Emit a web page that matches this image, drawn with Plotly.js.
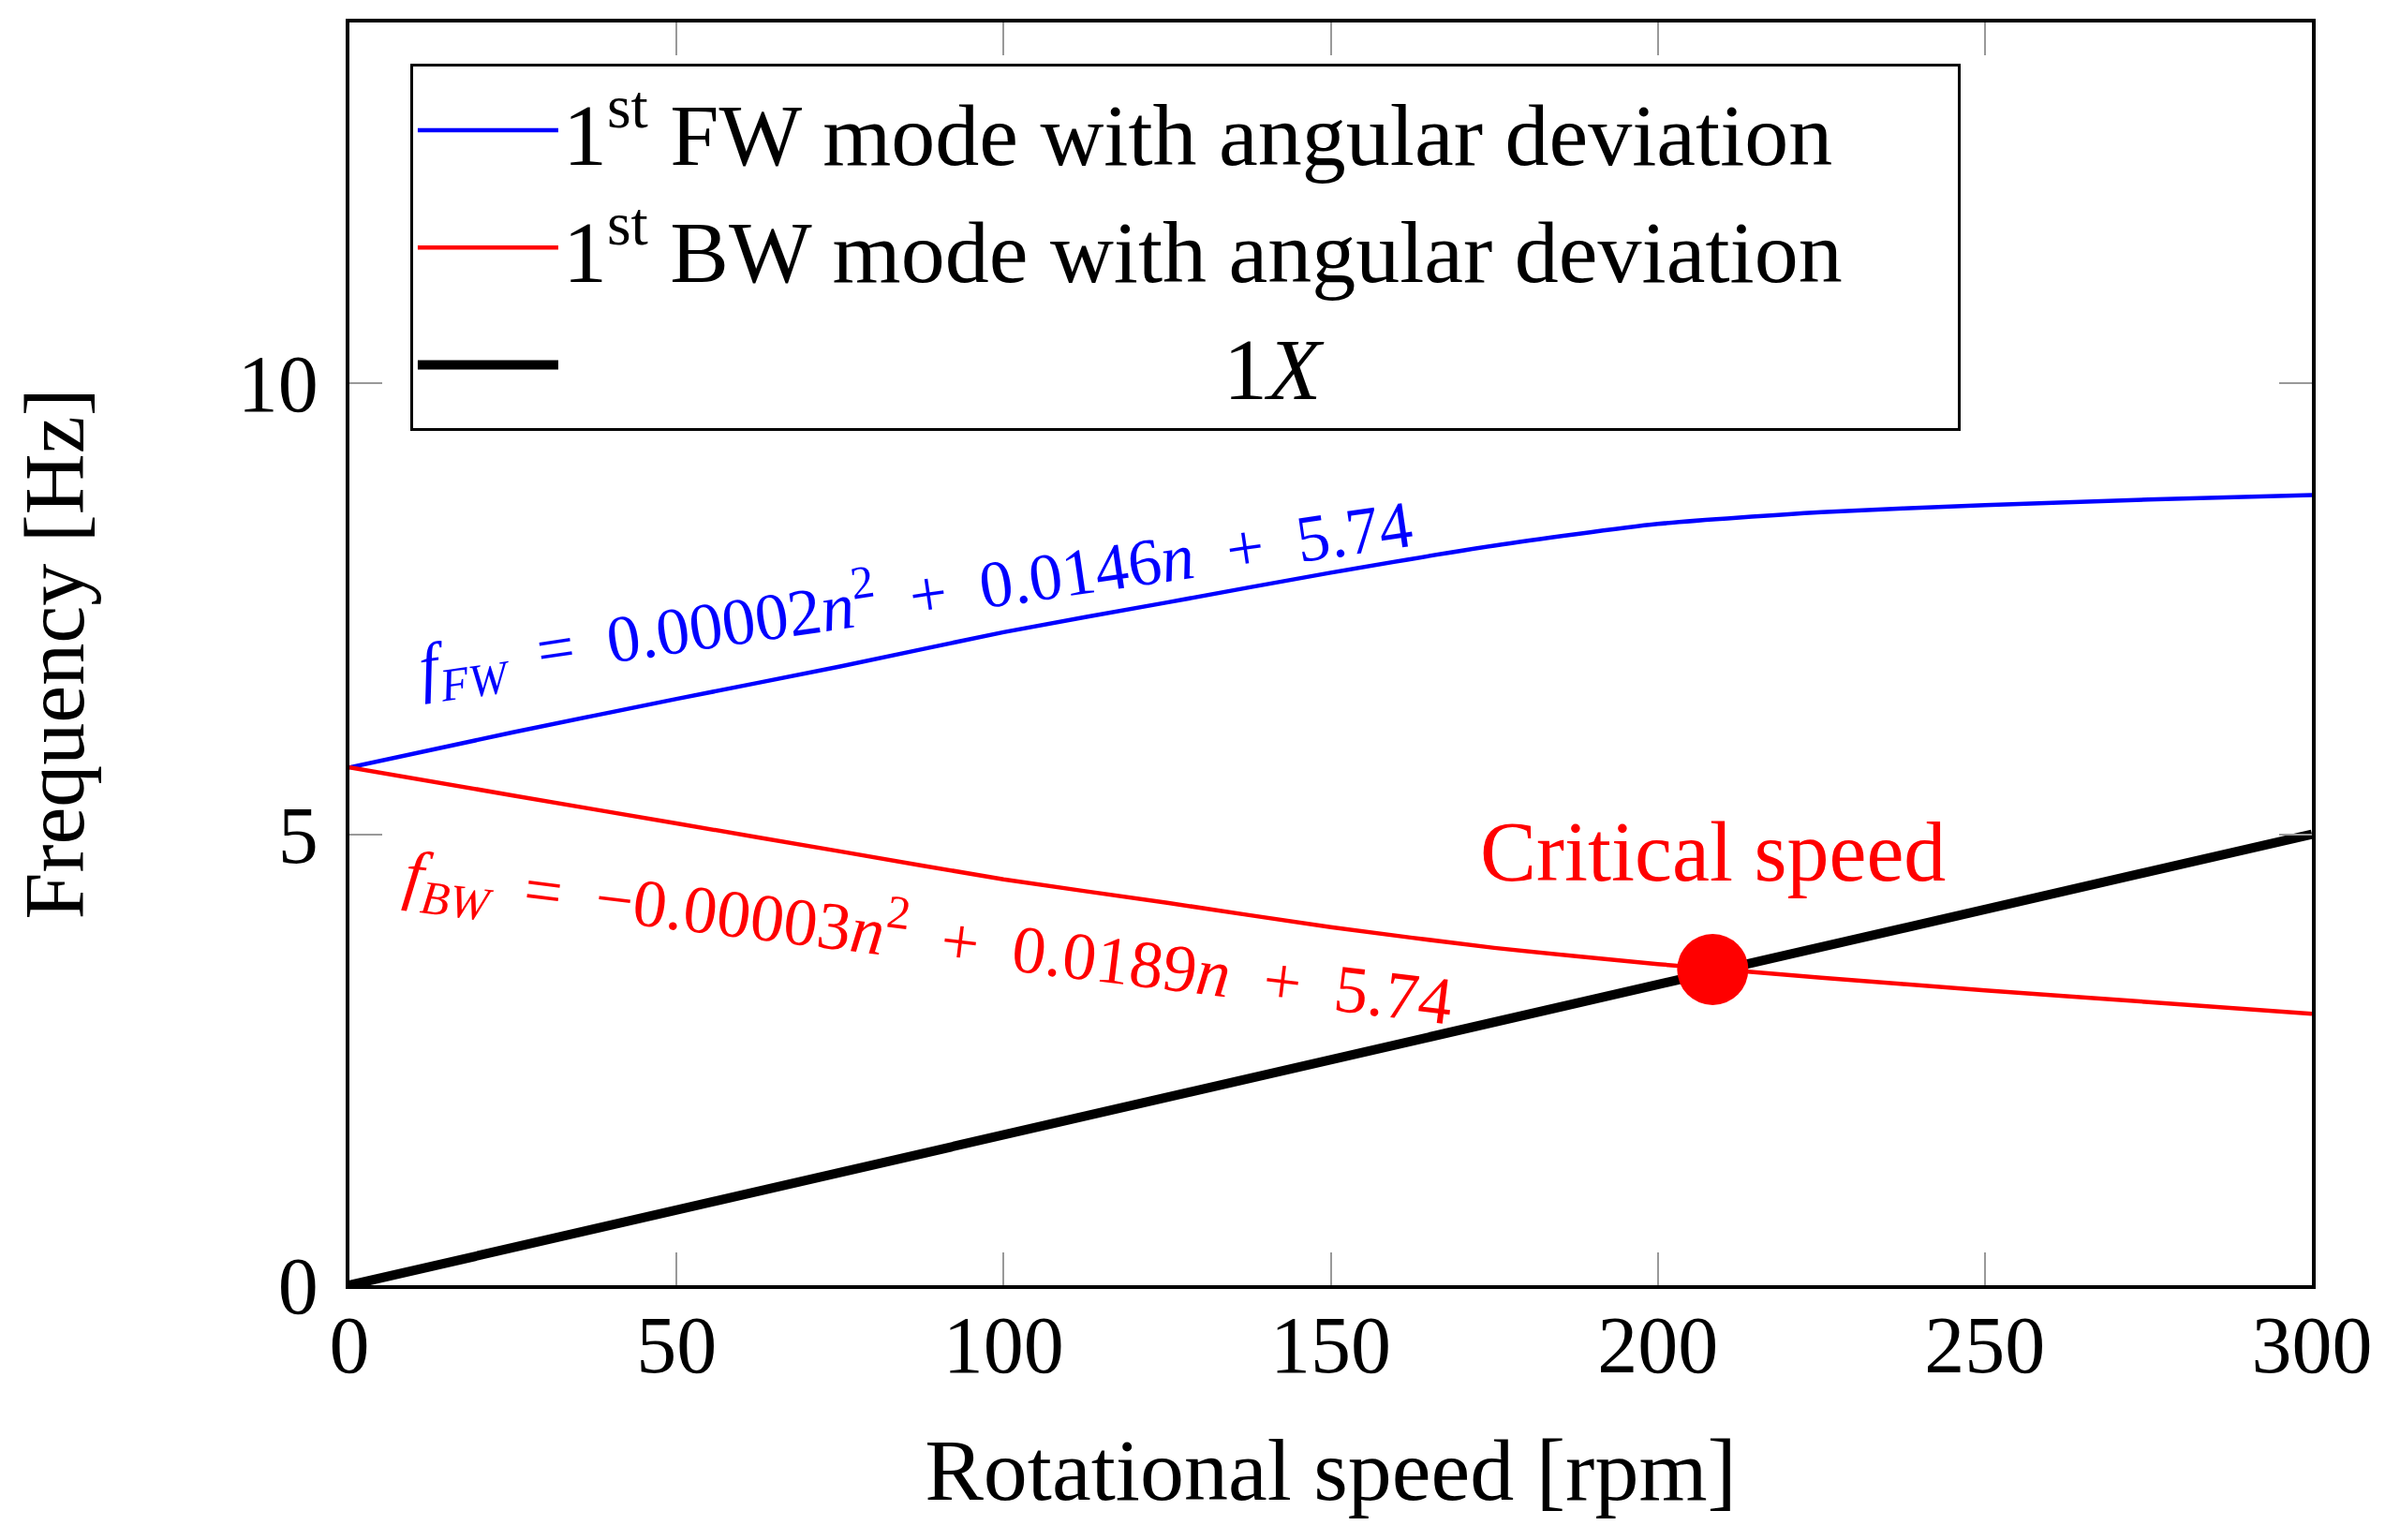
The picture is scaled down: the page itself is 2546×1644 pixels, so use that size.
<!DOCTYPE html>
<html>
<head>
<meta charset="utf-8">
<script src="https://cdn.plot.ly/plotly-3.0.1.min.js"></script>
<style>
  html, body { margin: 0; padding: 0; background: #fff; }
  #chart { width: 2546px; height: 1644px; }
</style>
</head>
<body>
<div id="chart"></div>
<script>
// rotational speed samples [rpm]
const speed = [0, 25, 50, 75, 100, 125, 150, 175, 200, 225, 250, 275, 300];
// 1st forward whirl mode [Hz]
const fwFreq = [5.74, 6.13, 6.50, 6.86, 7.24, 7.57, 7.90, 8.20, 8.44, 8.57, 8.65, 8.71, 8.76];
// 1st backward whirl mode [Hz]
const bwFreq = [5.74, 5.43, 5.12, 4.81, 4.50, 4.24, 3.97, 3.74, 3.56, 3.41, 3.27, 3.14, 3.01];
// 1X excitation line
const oneXSpeed = [0, 300];
const oneXFreq = [0, 5];
// critical speed point
const critSpeed = [208.4];
const critFreq = [3.50];

const xTicks = [0, 50, 100, 150, 200, 250, 300];
const yTicks = [0, 5, 10];

const FONT = "'Liberation Serif', 'Times New Roman', serif";
const pad = n => '\u00a0'.repeat(n);

const traces = [
  {
    x: speed, y: fwFreq, type: 'scatter', mode: 'lines',
    name: '1<sup>st</sup> FW mode with angular deviation',
    line: { color: '#0000ff', width: 4.5, shape: 'spline', smoothing: 0.6 }
  },
  {
    x: speed, y: bwFreq, type: 'scatter', mode: 'lines',
    name: '1<sup>st</sup> BW mode with angular deviation' + pad(5),
    line: { color: '#ff0000', width: 4.5, shape: 'spline', smoothing: 0.6 }
  },
  {
    x: oneXSpeed, y: oneXFreq, type: 'scatter', mode: 'lines',
    name: pad(30) + '1<i>X</i>',
    line: { color: '#000000', width: 10 }
  },
  {
    x: critSpeed, y: critFreq, type: 'scatter', mode: 'markers',
    showlegend: false,
    marker: { color: '#ff0000', size: 76 }
  }
];

const axisCommon = {
  showline: true, linecolor: '#000', linewidth: 4, mirror: 'allticks',
  ticks: 'inside', ticklen: 35, tickwidth: 2, tickcolor: '#999',
  showgrid: false, zeroline: false,
  tickfont: { family: FONT, size: 86, color: '#000' },
  automargin: false
};

const layout = {
  width: 2546, height: 1644,
  paper_bgcolor: '#fff', plot_bgcolor: '#fff',
  margin: { l: 373, r: 78, t: 24, b: 272 },
  font: { family: FONT, color: '#000' },
  showlegend: true,
  legend: {
    x: 0.031, y: 0.967, xanchor: 'left', yanchor: 'top',
    bgcolor: '#fff', bordercolor: '#000', borderwidth: 3,
    font: { family: FONT, size: 94, color: '#000' },
    itemwidth: 150
  },
  xaxis: {
    ...axisCommon,
    range: [0, 300], tickvals: xTicks, ticklabelstandoff: -14,
    title: { text: 'Rotational speed [rpm]', font: { family: FONT, size: 94 }, standoff: 53 }
  },
  yaxis: {
    ...axisCommon,
    range: [0, 14], tickvals: yTicks, ticklabelstandoff: 12,
    title: { text: 'Frequency [Hz]', font: { family: FONT, size: 90 }, standoff: 135 }
  },
  annotations: [
    {
      x: 86.6, y: 7.64, xref: 'x', yref: 'y', showarrow: false, textangle: -8.3,
      text: '<i>f</i><sub><i>FW</i></sub>' + pad(2) + '=' + pad(2) + '0.00002<i>n</i><sup>2</sup>' +
            pad(2) + '+' + pad(2) + '0.0146<i>n</i>' + pad(2) + '+' + pad(2) + '5.74',
      font: { family: FONT, size: 71, color: '#0000ff' }
    },
    {
      x: 88.5, y: 3.86, xref: 'x', yref: 'y', showarrow: false, textangle: 7.0,
      text: '<i>f</i><sub><i>BW</i></sub>' + pad(2) + '=' + pad(2) + '\u22120.00003<i>n</i><sup>2</sup>' +
            pad(2) + '+' + pad(2) + '0.0189<i>n</i>' + pad(2) + '+' + pad(2) + '5.74',
      font: { family: FONT, size: 72, color: '#ff0000' }
    },
    {
      x: 208.4, y: 4.80, xref: 'x', yref: 'y', showarrow: false,
      text: 'Critical speed',
      font: { family: FONT, size: 90, color: '#ff0000' }
    }
  ]
};

Plotly.newPlot('chart', traces, layout, { displayModeBar: false, staticPlot: true });
</script>
</body>
</html>
